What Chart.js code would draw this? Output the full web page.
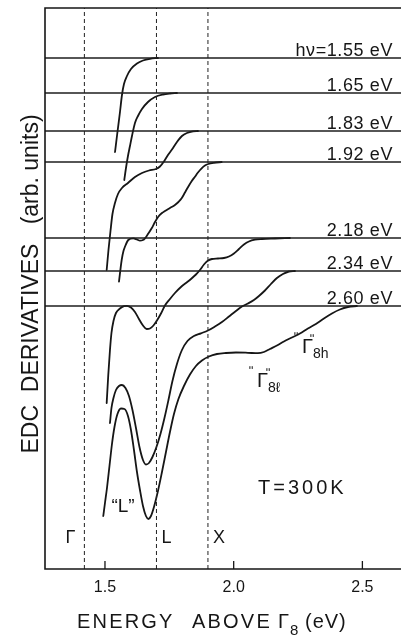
<!DOCTYPE html>
<html>
<head>
<meta charset="utf-8">
<script src="https://cdn.jsdelivr.net/npm/chart.js@4/dist/chart.umd.min.js"></script>
<style>
  html, body { margin: 0; padding: 0; background: #ffffff; }
  #wrap { width: 401px; height: 636px; }
</style>
</head>
<body>
<div id="wrap"><canvas id="edc" width="401" height="636"></canvas></div>
<script>
// Photon energies of the spectra and the vertical offset of each zero line (arb. units)
const photonEnergies  = [1.55, 1.65, 1.83, 1.92, 2.18, 2.34, 2.60];
const baselineOffsets = [51.1, 47.6, 43.8, 40.7, 33.1, 29.8, 26.3];

// EDC derivative curves: energy above Γ8 (eV) and signal relative to the zero line
const energy155 = [1.539, 1.5485, 1.5583, 1.566, 1.5738, 1.5854, 1.601, 1.6243, 1.6476, 1.6748, 1.7058];
const edc155    = [-9.4, -7.4, -5.4, -3.7, -2.6, -1.8, -1.1, -0.55, -0.25, -0.08, 0];

const energy165 = [1.575, 1.5816, 1.5893, 1.5971, 1.6049, 1.6165, 1.6282, 1.6437, 1.667, 1.6942, 1.7252, 1.7524, 1.7796];
const edc165    = [-8.7, -7.5, -6.3, -5.3, -4.3, -3.0, -2.3, -1.6, -0.9, -0.4, -0.15, -0.05, 0];

const energy183 = [1.5066, 1.5136, 1.5214, 1.5291, 1.5388, 1.5505, 1.566, 1.5893, 1.6165, 1.6437, 1.6709, 1.6981, 1.7136, 1.7291, 1.7447, 1.7602, 1.7796, 1.799, 1.8184, 1.8417, 1.8612];
const edc183    = [-13.9, -11.9, -10.0, -8.3, -7.2, -6.3, -5.7, -5.2, -4.6, -4.2, -3.95, -3.8, -3.55, -3.05, -2.4, -1.85, -1.1, -0.5, -0.2, -0.03, 0];

const energy192 = [1.5544, 1.5649, 1.5718, 1.5777, 1.5905, 1.6099, 1.6243, 1.6359, 1.6476, 1.6553, 1.667, 1.6814, 1.6942, 1.707, 1.7214, 1.733, 1.7524, 1.7718, 1.7854, 1.7979, 1.8107, 1.8235, 1.8359, 1.8495, 1.8612, 1.8755, 1.8883, 1.9012, 1.9233, 1.9532];
const edc192    = [-11.97, -9.8, -8.9, -8.47, -7.8, -7.63, -7.75, -7.87, -7.8, -7.63, -7.2, -6.63, -6.0, -5.47, -5.1, -4.9, -4.6, -4.3, -4.0, -3.63, -3.05, -2.47, -1.95, -1.47, -1.05, -0.63, -0.35, -0.2, -0.08, 0];

const energy218 = [1.5066, 1.5128, 1.5194, 1.5252, 1.533, 1.5427, 1.5583, 1.5738, 1.5854, 1.601, 1.6165, 1.632, 1.6476, 1.6619, 1.6748, 1.6883, 1.7019, 1.7175, 1.733, 1.7524, 1.7718, 1.7951, 1.8146, 1.834, 1.8534, 1.8689, 1.8845, 1.8981, 1.9155, 1.9388, 1.9621, 1.9816, 2.001, 2.0204, 2.0398, 2.0592, 2.0825, 2.1097, 2.1602, 2.2184];
const edc218    = [-16.5, -13.7, -11.2, -9.5, -8.3, -7.5, -7.05, -6.82, -6.78, -6.95, -7.4, -8.1, -8.75, -9.1, -9.05, -8.75, -8.25, -7.55, -6.75, -6.1, -5.5, -4.9, -4.5, -4.1, -3.65, -3.2, -2.65, -2.3, -2.1, -2.05, -2.0, -1.85, -1.55, -1.1, -0.65, -0.35, -0.17, -0.1, -0.05, 0];

const energy234 = [1.5194, 1.5252, 1.533, 1.5427, 1.5544, 1.566, 1.5796, 1.5932, 1.6068, 1.6204, 1.634, 1.6476, 1.6592, 1.6709, 1.6845, 1.7, 1.7155, 1.7311, 1.7466, 1.7621, 1.7796, 1.799, 1.8204, 1.8456, 1.8728, 1.9, 1.9272, 1.9544, 1.9816, 2.0087, 2.032, 2.0553, 2.0786, 2.0981, 2.1214, 2.1447, 2.168, 2.1913, 2.2146, 2.2379];
const edc234    = [-15.2, -13.7, -12.7, -11.9, -11.5, -11.4, -11.7, -12.5, -13.9, -15.7, -17.6, -18.9, -19.35, -19.2, -18.6, -17.6, -16.3, -14.7, -12.9, -11.0, -9.3, -7.9, -7.0, -6.5, -6.23, -5.95, -5.55, -5.1, -4.55, -4.0, -3.55, -3.25, -2.9, -2.5, -1.95, -1.3, -0.7, -0.3, -0.05, 0];

const energy260 = [1.4934, 1.5, 1.5078, 1.5175, 1.5272, 1.5369, 1.5485, 1.5621, 1.5757, 1.5893, 1.601, 1.6126, 1.6243, 1.6359, 1.6476, 1.6592, 1.6689, 1.6786, 1.6903, 1.7058, 1.7214, 1.7369, 1.7524, 1.768, 1.7854, 1.8068, 1.8301, 1.8534, 1.8767, 1.9039, 1.935, 1.9699, 2.0087, 2.0553, 2.0942, 2.1175, 2.1408, 2.168, 2.1951, 2.2262, 2.2573, 2.2883, 2.3194, 2.3505, 2.3816, 2.4126, 2.4437, 2.4786];
const edc260    = [-21.0, -19.7, -18.2, -16.0, -13.8, -12.1, -10.8, -10.25, -10.3, -11.0, -12.4, -14.4, -16.6, -18.4, -20.0, -21.0, -21.3, -21.0, -20.1, -18.5, -16.6, -14.6, -12.6, -10.8, -9.3, -8.0, -6.85, -6.0, -5.45, -5.05, -4.8, -4.7, -4.65, -4.68, -4.72, -4.6, -4.3, -3.95, -3.55, -3.15, -2.75, -2.25, -1.8, -1.25, -0.75, -0.35, -0.1, 0];

// Critical points of the band structure (eV above Γ8)
const criticalEnergies = [1.42, 1.70, 1.90];
const criticalNames    = ['Γ', 'L', 'X'];

// Axis ticks
const tickValues = [1.5, 2.0, 2.5];
const tickLabels = ['1.5', '2.0', '2.5'];

const X_MIN = 1.267, X_MAX = 2.65, Y_MIN = 0, Y_MAX = 56.1;
const INK = '#161616';
const FONT = '"Liberation Sans", Arial, Helvetica, sans-serif';

const energyCols = [energy155, energy165, energy183, energy192, energy218, energy234, energy260];
const edcCols    = [edc155, edc165, edc183, edc192, edc218, edc234, edc260];

const datasets = [];

// zero line of every spectrum
baselineOffsets.forEach((off) => {
  datasets.push({
    data: [{ x: X_MIN, y: off }, { x: X_MAX, y: off }],
    borderColor: '#1e1e1e', borderWidth: 1.3, pointRadius: 0, tension: 0
  });
});

// dashed markers of the critical points
criticalEnergies.forEach((e) => {
  datasets.push({
    data: [{ x: e, y: Y_MIN }, { x: e, y: Y_MAX }],
    borderColor: '#222', borderWidth: 1, borderDash: [4, 3], pointRadius: 0, tension: 0
  });
});

// spectra
energyCols.forEach((es, i) => {
  datasets.push({
    data: es.map((e, k) => ({ x: e, y: baselineOffsets[i] + edcCols[i][k] })),
    borderColor: INK, borderWidth: 1.8, pointRadius: 0,
    cubicInterpolationMode: 'monotone', borderCapStyle: 'round', borderJoinStyle: 'round'
  });
});

function txt(ctx, s, x, y, size, align, spacing) {
  ctx.font = size + 'px ' + FONT;
  ctx.textAlign = align || 'left';
  ctx.letterSpacing = (spacing || 0) + 'px';
  ctx.fillText(s, x, y);
}

const decorations = {
  id: 'decorations',
  afterDatasetsDraw(chart) {
    const { ctx, chartArea: a, scales: { x, y } } = chart;
    ctx.save();
    ctx.strokeStyle = INK;
    ctx.fillStyle = INK;
    ctx.lineWidth = 1.6;
    // frame: left, top, bottom
    ctx.beginPath();
    ctx.moveTo(a.right, a.top); ctx.lineTo(a.left, a.top);
    ctx.lineTo(a.left, a.bottom); ctx.lineTo(a.right, a.bottom);
    ctx.stroke();

    // ticks pointing inward and their labels
    ctx.lineWidth = 1.3;
    tickValues.forEach((v, i) => {
      const px = x.getPixelForValue(v);
      ctx.beginPath(); ctx.moveTo(px, a.bottom); ctx.lineTo(px, a.bottom - 8); ctx.stroke();
      ctx.textBaseline = 'alphabetic';
      txt(ctx, tickLabels[i], px, a.bottom + 23, 16, 'center', 0);
    });

    // photon energy labels sitting on each zero line
    ctx.textBaseline = 'alphabetic';
    photonEnergies.forEach((hv, i) => {
      const py = y.getPixelForValue(baselineOffsets[i]) - 2;
      const s = (i === 0 ? 'hν=' : '') + hv.toFixed(2) + ' eV';
      txt(ctx, s, a.right - 8, py, 18, 'right', 0.6);
    });

    // critical point names
    const shifts = [-14, 10, 11];
    criticalEnergies.forEach((e, i) => {
      txt(ctx, criticalNames[i], x.getPixelForValue(e) + shifts[i], 543, 18, 'center', 0);
    });

    // peak annotations
    txt(ctx, '\u201CL\u201D', 123, 512, 19, 'center', 0);
    // "Γ8h"
    txt(ctx, '\u02BA', 296, 341, 13, 'center', 0);
    txt(ctx, 'Γ', 302, 353, 20, 'left', 0);
    txt(ctx, '\u02BA', 312, 343, 13, 'center', 0);
    txt(ctx, '8h', 313, 358, 14, 'left', 0);
    // "Γ8ℓ"
    txt(ctx, '\u02BA', 251, 375, 13, 'center', 0);
    txt(ctx, 'Γ', 257, 387, 20, 'left', 0);
    txt(ctx, '\u02BA', 268, 377, 13, 'center', 0);
    txt(ctx, '8ℓ', 268, 392, 14, 'left', 0);

    // temperature
    txt(ctx, 'T=300K', 258, 494, 20, 'left', 3);

    // x title
    txt(ctx, 'ENERGY', 77, 628, 20, 'left', 2.2);
    txt(ctx, 'ABOVE', 192, 628, 20, 'left', 2.2);
    txt(ctx, 'Γ', 278, 628, 20, 'left', 0);
    txt(ctx, '8', 290, 635, 15, 'left', 0);
    txt(ctx, '(eV)', 305, 628, 20, 'left', 1);

    // y title
    ctx.translate(38, 284);
    ctx.rotate(-Math.PI / 2);
    txt(ctx, 'EDC  DERIVATIVES   (arb. units)', 0, 0, 23, 'center', 0);
    ctx.restore();
  }
};

new Chart(document.getElementById('edc'), {
  type: 'line',
  data: { datasets },
  options: {
    responsive: false,
    animation: false,
    devicePixelRatio: 1,
    layout: { padding: { left: 45, right: 0, top: 8, bottom: 67 } },
    plugins: { legend: { display: false }, tooltip: { enabled: false } },
    scales: {
      x: { type: 'linear', min: X_MIN, max: X_MAX, display: false },
      y: { type: 'linear', min: Y_MIN, max: Y_MAX, display: false }
    }
  },
  plugins: [decorations]
});
</script>
</body>
</html>
